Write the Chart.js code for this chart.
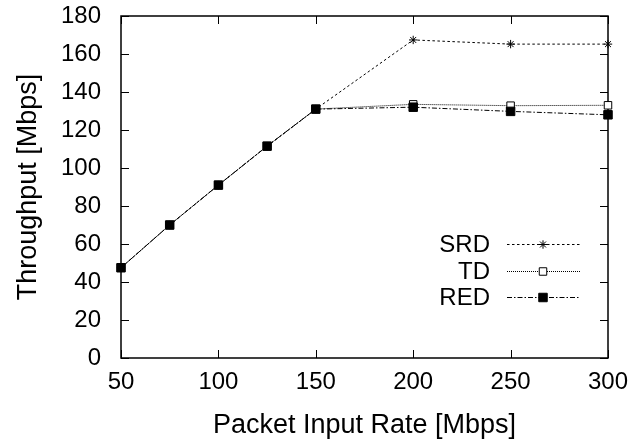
<!DOCTYPE html>
<html><head><meta charset="utf-8">
<script src="https://cdn.jsdelivr.net/npm/chart.js@4"></script>
<style>html,body{margin:0;padding:0;background:#fff}#wrap{width:638px;height:445px}</style>
</head><body><div id="wrap"><canvas id="c" width="638" height="445"></canvas></div>
<script>
const inputRates = [50, 75, 100, 125, 150, 200, 250, 300];
const srdValues = [47.5, 70, 91, 111.5, 131, 167.4, 165.2, 165.2];
const tdValues  = [47.5, 70, 91, 111.5, 131, 133.5, 132.8, 133];
const redValues = [47.5, 70, 91, 111.5, 131, 132, 129.8, 128];
const seriesNames = ['SRD', 'TD', 'RED'];
const xTicks = [50, 100, 150, 200, 250, 300];
const yTicks = [0, 20, 40, 60, 80, 100, 120, 140, 160, 180];

const FONT = 'Liberation Sans, Arial, sans-serif';
const styles = [
  {dash:[2.5,2.5], pointStyle:'star', radius:4.2, fill:'#000'},
  {dash:[1,1], pointStyle:'rect', radius:5.3, fill:'#fff'},
  {dash:[5,2,1.5,2], pointStyle:'rect', radius:6, fill:'#000'}
];
const values = [srdValues, tdValues, redValues];

const datasets = values.map((v, i) => ({
  label: seriesNames[i],
  data: inputRates.map((x, j) => ({x, y: v[j]})),
  borderColor: '#000', borderWidth: 1, borderDash: styles[i].dash,
  pointStyle: styles[i].pointStyle, pointRadius: styles[i].radius,
  pointBackgroundColor: styles[i].fill, pointBorderColor: '#000', pointBorderWidth: 1,
  fill: false, tension: 0, order: 3 - i, clip: false
}));

const frame = {
  id: 'frame',
  beforeDatasetsDraw(chart) {
    const {ctx, chartArea: a, scales: {x, y}} = chart;
    ctx.save();
    ctx.strokeStyle = '#000'; ctx.lineWidth = 1.5; ctx.setLineDash([]);
    ctx.strokeRect(a.left, a.top, a.right - a.left, a.bottom - a.top);
    ctx.lineWidth = 1;
    const L = 8;
    ctx.beginPath();
    xTicks.forEach(t => { const p = Math.round(x.getPixelForValue(t)) + 0.5;
      ctx.moveTo(p, a.bottom); ctx.lineTo(p, a.bottom - L);
      ctx.moveTo(p, a.top); ctx.lineTo(p, a.top + L); });
    yTicks.forEach(t => { const p = Math.round(y.getPixelForValue(t)) + 0.5;
      ctx.moveTo(a.left, p); ctx.lineTo(a.left + L, p);
      ctx.moveTo(a.right, p); ctx.lineTo(a.right - L, p); });
    ctx.stroke();
    ctx.restore();
  },
  afterDatasetsDraw(chart) {
    const {ctx, chartArea: a} = chart;
    ctx.save();
    ctx.font = '24px ' + FONT; ctx.fillStyle = '#000';
    ctx.textAlign = 'right'; ctx.textBaseline = 'middle';
    const textX = a.right - 118, x0 = a.right - 101, x1 = a.right - 28, mx = a.right - 65;
    const rowY = [a.top + 228, a.top + 255, a.top + 281];
    seriesNames.forEach((n, i) => {
      const yy = rowY[i];
      ctx.fillStyle = '#000';
      ctx.fillText(n, textX, yy + 1);
      ctx.setLineDash(styles[i].dash); ctx.lineWidth = 1; ctx.strokeStyle = '#000';
      ctx.beginPath(); ctx.moveTo(x0, yy + 0.5); ctx.lineTo(x1, yy + 0.5); ctx.stroke();
      ctx.setLineDash([]);
      ctx.fillStyle = styles[i].fill;
      Chart.helpers.drawPoint(ctx, {pointStyle: styles[i].pointStyle, radius: styles[i].radius, rotation: 0, borderWidth: 1}, mx, yy + 0.5);
    });
    ctx.restore();
  }
};

new Chart(document.getElementById('c'), {
  type: 'line',
  data: {datasets},
  options: {
    responsive: false, animation: false, devicePixelRatio: 1,
    layout: {padding: {top: 16, right: 30, left: 0, bottom: 0}},
    plugins: {legend: {display: false}, tooltip: {enabled: false}},
    scales: {
      x: {
        type: 'linear', min: 50, max: 300,
        afterBuildTicks: s => { s.ticks = xTicks.map(v => ({value: v})); },
        afterFit: s => { s.height = 87; },
        grid: {display: false, drawTicks: true, tickLength: 12}, border: {display: false},
        ticks: {color: '#000', font: {family: FONT, size: 24, lineHeight: 1}, padding: 0, maxRotation: 0},
        title: {display: true, text: 'Packet Input Rate [Mbps]', color: '#000', font: {family: FONT, size: 27, lineHeight: 1.2}, padding: {top: 0, bottom: 3}}
      },
      y: {
        type: 'linear', min: 0, max: 180,
        afterBuildTicks: s => { s.ticks = yTicks.map(v => ({value: v})); },
        afterFit: s => { s.width = 121; },
        grid: {display: false, drawTicks: true, tickLength: 20}, border: {display: false},
        ticks: {color: '#000', font: {family: FONT, size: 24, lineHeight: 1}, padding: 0},
        title: {display: true, text: 'Throughput [Mbps]', color: '#000', font: {family: FONT, size: 27, lineHeight: 1.2}, padding: {top: 12, bottom: 0}}
      }
    }
  },
  plugins: [frame]
});
</script></body></html>
